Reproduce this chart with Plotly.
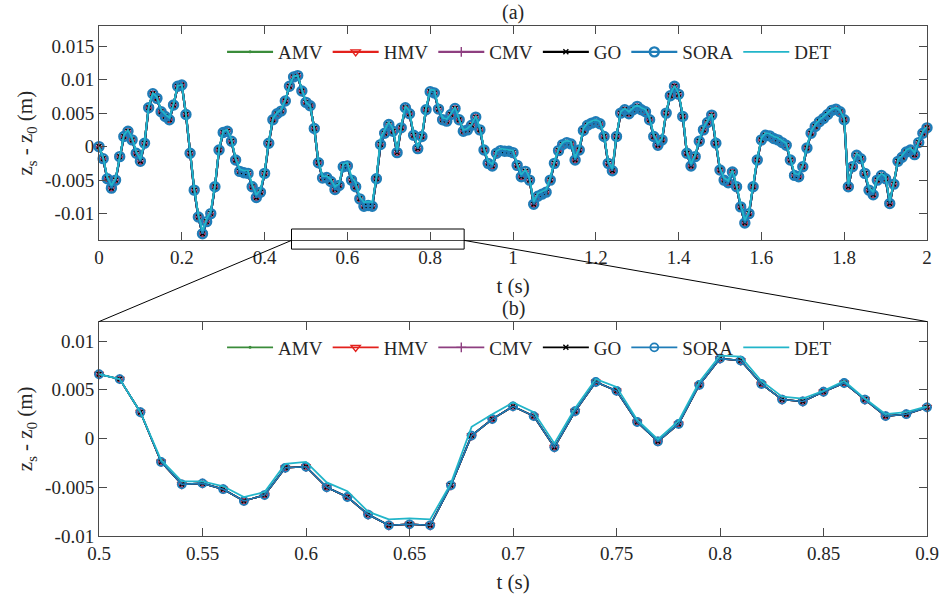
import numpy as np
import plotly.graph_objects as go
from plotly.subplots import make_subplots

# ---------------- data (displacement in mm, sampled every 0.01 s) ----------------
t = np.round(np.arange(0, 2.0001, 0.01), 2)

# RBDO designs (AMV, HMV, CMV, GO, SORA overlap)
z_rbdo_mm = [
    0.0, -1.8, -4.8, -6.2, -5.0, -1.5, 1.5, 2.3, 1.0, -1.0,
    -2.2, 0.5, 5.8, 7.9, 7.2, 5.2, 4.5, 4.0, 6.2, 9.0,
    9.2, 4.8, -1.0, -6.5, -10.5, -13.0, -11.2, -10.0, -6.0, -0.5,
    2.1, 2.3, 0.8, -2.0, -3.7, -3.9, -4.0, -6.0, -7.6, -6.8,
    -4.0, 0.5, 4.0, 4.9, 5.3, 6.8, 9.0, 10.4, 10.6, 8.3,
    6.6, 6.1, 2.7, -2.4, -4.7, -4.6, -5.2, -6.4, -5.8, -3.0,
    -2.9, -5.0, -6.0, -7.8, -8.9, -8.8, -8.9, -4.8, 0.3, 2.0,
    3.3, 2.3, -0.9, 2.8, 5.8, 4.9, 1.7, -0.3, 1.5, 5.5,
    8.2, 8.0, 5.6, 4.0, 3.8, 4.8, 5.7, 4.0, 2.3, 2.5,
    3.2, 4.4, 2.5, -0.5, -2.5, -2.9, -1.0, -0.6, -0.7, -0.7,
    -0.9, -2.8, -4.5, -3.7, -5.0, -8.6, -7.4, -7.1, -6.8, -5.0,
    -2.5, -0.6, 0.3, 0.6, 0.4, -2.0, -0.5, 2.4, 3.2, 3.5,
    3.7, 3.4, 1.5, -2.5, -3.6, 1.5, 5.0, 5.5, 4.9, 5.5,
    6.0, 5.5, 5.2, 4.0, 1.5, 0.2, 1.0, 5.0, 7.6, 9.0,
    7.8, 4.5, -1.0, -2.9, -1.5, 0.8, 2.5, 3.6, 4.7, 0.5,
    -3.5, -5.0, -5.4, -3.8, -6.0, -9.0, -11.4, -10.0, -6.0, -2.0,
    1.0, 1.7, 1.6, 1.2, 1.0, 0.6, 0.2, -2.0, -4.3, -4.5,
    -3.0, -0.2, 2.0, 3.0, 3.7, 4.2, 4.8, 5.4, 5.6, 5.2,
    4.0, -6.0, -3.0, -1.3, -1.8, -4.0, -6.5, -7.2, -5.0, -4.3,
    -4.8, -8.5, -5.6, -2.2, -1.6, -0.8, -0.5, -1.2, 0.6, 2.0,
    2.8,
]

# deterministic design
z_det_mm = [
    0.0, -1.6, -4.5, -5.8, -4.7, -1.2, 1.7, 2.5, 1.3, -0.7,
    -1.9, 0.8, 6.0, 8.0, 7.4, 5.5, 4.8, 4.3, 6.4, 9.1,
    9.2, 4.9, -0.8, -6.2, -10.1, -12.6, -10.8, -9.6, -5.7, -0.2,
    2.3, 2.5, 1.1, -1.7, -3.4, -3.6, -3.6, -5.6, -7.2, -6.4,
    -3.7, 0.8, 4.2, 5.1, 5.5, 7.0, 9.1, 10.5, 10.6, 8.4,
    6.6, 6.1, 2.7, -2.2, -4.4, -4.4, -4.9, -6.0, -5.5, -2.6,
    -2.4, -4.5, -5.4, -7.5, -8.3, -8.2, -8.3, -4.6, 1.2, 2.5,
    3.7, 2.7, -0.5, 3.1, 6.1, 5.3, 1.9, -0.1, 1.8, 5.8,
    8.5, 8.4, 5.9, 4.3, 4.1, 4.9, 5.9, 4.1, 2.5, 2.7,
    3.3, 4.6, 2.8, -0.2, -2.2, -2.6, -0.7, -0.3, -0.4, -0.4,
    -0.6, -2.5, -4.2, -3.4, -4.7, -8.2, -7.0, -6.7, -6.4, -4.6,
    -2.2, -0.3, 0.6, 0.9, 0.7, -1.7, -0.2, 2.7, 3.5, 3.8,
    4.0, 3.7, 1.8, -2.2, -3.3, 1.8, 5.2, 5.7, 5.2, 5.8,
    6.2, 5.8, 5.5, 4.3, 1.8, 0.5, 1.3, 5.2, 7.8, 9.1,
    8.0, 4.8, -0.7, -2.6, -1.2, 1.1, 2.8, 3.9, 4.9, 0.8,
    -3.2, -4.7, -5.1, -3.5, -5.7, -8.6, -11.0, -9.6, -5.7, -1.7,
    1.3, 2.0, 1.9, 1.5, 1.3, 0.9, 0.5, -1.7, -4.0, -4.2,
    -2.7, 0.1, 2.3, 3.3, 4.0, 4.5, 5.1, 5.6, 5.8, 5.4,
    4.2, -5.6, -2.7, -1.0, -1.5, -3.7, -6.1, -6.8, -4.7, -4.0,
    -4.5, -8.1, -5.3, -1.9, -1.3, -0.5, -0.2, -0.9, 0.9, 2.3,
    3.0,
]

amv = hmv = cmv = go_ = sora = [v / 1000 for v in z_rbdo_mm]
det = [v / 1000 for v in z_det_mm]

series_names = ["AMV", "HMV", "CMV", "GO", "SORA", "DET"]

# tick labels
xa_vals = [0, 0.2, 0.4, 0.6, 0.8, 1, 1.2, 1.4, 1.6, 1.8, 2]
xa_text = ["0", "0.2", "0.4", "0.6", "0.8", "1", "1.2", "1.4", "1.6", "1.8", "2"]
ya_vals = [-0.01, -0.005, 0, 0.005, 0.01, 0.015]
ya_text = ["-0.01", "-0.005", "0", "0.005", "0.01", "0.015"]
xb_vals = [0.5, 0.55, 0.6, 0.65, 0.7, 0.75, 0.8, 0.85, 0.9]
xb_text = ["0.5", "0.55", "0.6", "0.65", "0.7", "0.75", "0.8", "0.85", "0.9"]
yb_vals = [-0.01, -0.005, 0, 0.005, 0.01]
yb_text = ["-0.01", "-0.005", "0", "0.005", "0.01"]

# zoom window (data coords of top plot)
zoom_x = [0.465, 0.882]
zoom_y = [-0.0153, -0.0123]

# ---------------- styles ----------------
FONT = "Liberation Serif, Times New Roman, serif"
styles = {
    "AMV": dict(color="#3A8C3A", symbol="circle", size=3, lw=0),
    "HMV": dict(color="#E3211C", symbol="triangle-down-open", size=8, lw=1.4),
    "CMV": dict(color="#8E3F80", symbol="cross-thin-open", size=7, lw=1.4),
    "GO": dict(color="#000000", symbol="x-thin-open", size=5, lw=1.4),
    "SORA": dict(color="#1F7DB8", symbol="circle-open", size=8, lw=1.8),
    "DET": dict(color="#22B5C9", symbol=None, size=0, lw=0),
}
data_map = {"AMV": amv, "HMV": hmv, "CMV": cmv, "GO": go_, "SORA": sora, "DET": det}

fig = make_subplots(rows=2, cols=1)

t_list = list(t)
mask_b = [i for i, tv in enumerate(t_list) if 0.4999 <= tv <= 0.9001]

for row, legend_id in [(1, "legend"), (2, "legend2")]:
    for name in series_names:
        st = styles[name]
        y = data_map[name]
        if row == 2:
            xs = [t_list[i] for i in mask_b]
            ys = [y[i] for i in mask_b]
        else:
            xs, ys = t_list, y
        if name == "DET":
            tr = go.Scatter(x=xs, y=ys, mode="lines", name=name,
                            line=dict(color=st["color"], width=1.8),
                            legend=legend_id, cliponaxis=False)
        else:
            size = st["size"] + (1 if row == 1 and name == "SORA" else 0)
            mk = dict(symbol=st["symbol"], size=size, color=st["color"])
            if st["lw"]:
                mk["line"] = dict(color=st["color"],
                                  width=st["lw"] + (0.6 if row == 1 and name == "SORA" else 0))
            tr = go.Scatter(x=xs, y=ys, mode="lines+markers", name=name,
                            line=dict(color=st["color"], width=1.6 if row == 2 else 2.2),
                            marker=mk, legend=legend_id, cliponaxis=False)
        fig.add_trace(tr, row=row, col=1)

axis_common = dict(
    showline=True, linecolor="#4a4a4a", linewidth=1, mirror="ticks",
    ticks="inside", ticklen=8, tickcolor="#4a4a4a", showgrid=False, zeroline=False,
    tickfont=dict(family=FONT, size=19, color="#262626"),
)
title_font = dict(family=FONT, size=21, color="#262626")

top_dom = [0.5796, 1.0]
bot_dom = [0.0, 0.4204]
xa_range = [0, 2]
ya_range = [-0.014, 0.018]
xb_range = [0.5, 0.9]
yb_range = [-0.01, 0.012]

fig.update_xaxes(range=xa_range, tickvals=xa_vals, ticktext=xa_text, domain=[0, 1],
                 title=dict(text="t (s)", font=title_font, standoff=11),
                 **axis_common, row=1, col=1)
fig.update_yaxes(range=ya_range, tickvals=ya_vals, ticktext=ya_text, domain=top_dom,
                 title=dict(text="z<sub>s</sub> - z<sub>0</sub> (m)", font=title_font, standoff=6),
                 **axis_common, row=1, col=1)
fig.update_xaxes(range=xb_range, tickvals=xb_vals, ticktext=xb_text, domain=[0, 1],
                 title=dict(text="t (s)", font=title_font, standoff=11),
                 **axis_common, row=2, col=1)
fig.update_yaxes(range=yb_range, tickvals=yb_vals, ticktext=yb_text, domain=bot_dom,
                 title=dict(text="z<sub>s</sub> - z<sub>0</sub> (m)", font=title_font, standoff=6),
                 **axis_common, row=2, col=1)


def px(xv, rng):
    return (xv - rng[0]) / (rng[1] - rng[0])


def py(yv, rng, dom):
    return dom[0] + (yv - rng[0]) / (rng[1] - rng[0]) * (dom[1] - dom[0])


rx0, rx1 = px(zoom_x[0], xa_range), px(zoom_x[1], xa_range)
ry0, ry1 = py(zoom_y[0], ya_range, top_dom), py(zoom_y[1], ya_range, top_dom)

shapes = [
    dict(type="rect", xref="paper", yref="paper", x0=rx0, x1=rx1, y0=ry0, y1=ry1,
         line=dict(color="black", width=1)),
    dict(type="line", xref="paper", yref="paper", x0=rx0, y0=top_dom[0], x1=0, y1=bot_dom[1],
         line=dict(color="black", width=1)),
    dict(type="line", xref="paper", yref="paper", x0=rx1, y0=top_dom[0], x1=1, y1=bot_dom[1],
         line=dict(color="black", width=1)),
]

legend_common = dict(orientation="h", xanchor="center", x=0.52, yanchor="middle",
                     font=dict(family=FONT, size=19, color="#262626"),
                     bgcolor="rgba(0,0,0,0)", itemwidth=46, tracegroupgap=0)

fig.update_layout(
    width=951, height=601,
    margin=dict(l=99, r=15, t=26, b=58),
    plot_bgcolor="white", paper_bgcolor="white",
    shapes=shapes,
    legend=dict(y=0.949, **legend_common),
    legend2=dict(y=0.3696, **legend_common),
    annotations=[
        dict(text="(a)", xref="paper", yref="paper", x=0.5, y=1.0, yanchor="bottom",
             showarrow=False, font=dict(family=FONT, size=20, color="#262626")),
        dict(text="(b)", xref="paper", yref="paper", x=0.5, y=bot_dom[1], yanchor="bottom",
             showarrow=False, font=dict(family=FONT, size=20, color="#262626")),
    ],
)

fig.write_html("out.html", config={"displayModeBar": False},
               post_script="document.body.style.margin='0px';document.body.style.overflow='hidden';")
